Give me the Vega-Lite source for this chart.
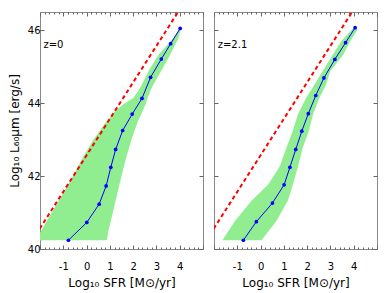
{
  "$schema": "https://vega.github.io/schema/vega-lite/v6.json",
  "padding": {"left": 7, "top": 11, "right": 16, "bottom": 5},
  "background": "white",
  "config": {
    "view": {"stroke": "#888888", "strokeWidth": 1},
    "font": "DejaVu Sans",
    "axis": {"domain": false, "grid": false, "tickColor": "#666666", "labelFont": "DejaVu Sans", "labelFontSize": 10, "labelColor": "#000000", "titleFont": "DejaVu Sans", "titleFontSize": 12, "titleFontWeight": "normal", "titleColor": "#000000", "labelOverlap": false, "labelFlush": false}
  },
  "datasets": {
    "band0": [
      {"L": 40.24, "lo": -2.2, "hi": 0.87},
      {"L": 40.5, "lo": -1.95, "hi": 0.94},
      {"L": 41.0, "lo": -1.5, "hi": 1.13},
      {"L": 41.5, "lo": -1.03, "hi": 1.31},
      {"L": 42.0, "lo": -0.58, "hi": 1.5},
      {"L": 42.5, "lo": -0.17, "hi": 1.7},
      {"L": 43.0, "lo": 0.3, "hi": 1.93},
      {"L": 43.5, "lo": 0.85, "hi": 2.2},
      {"L": 43.8, "lo": 1.25, "hi": 2.42},
      {"L": 43.98, "lo": 1.6, "hi": 2.54},
      {"L": 44.15, "lo": 2.02, "hi": 2.62},
      {"L": 44.45, "lo": 2.33, "hi": 2.82},
      {"L": 44.88, "lo": 2.66, "hi": 3.2},
      {"L": 45.33, "lo": 3.09, "hi": 3.59},
      {"L": 45.79, "lo": 3.73, "hi": 3.95},
      {"L": 46.07, "lo": 4.0, "hi": 4.06}
    ],
    "band2": [
      {"L": 40.24, "lo": -1.64, "hi": 0.04},
      {"L": 40.77, "lo": -1.1, "hi": 0.68},
      {"L": 41.32, "lo": -0.39, "hi": 1.17},
      {"L": 41.77, "lo": 0.33, "hi": 1.39},
      {"L": 42.27, "lo": 0.83, "hi": 1.61},
      {"L": 42.78, "lo": 1.11, "hi": 1.81},
      {"L": 43.25, "lo": 1.39, "hi": 2.08},
      {"L": 43.69, "lo": 1.6, "hi": 2.25},
      {"L": 44.15, "lo": 1.96, "hi": 2.53},
      {"L": 44.51, "lo": 2.32, "hi": 2.81},
      {"L": 44.88, "lo": 2.67, "hi": 3.0},
      {"L": 45.33, "lo": 3.1, "hi": 3.55},
      {"L": 45.7, "lo": 3.46, "hi": 3.85},
      {"L": 46.0, "lo": 3.9, "hi": 4.15},
      {"L": 46.1, "lo": 4.05, "hi": 4.1}
    ],
    "pts0": [
      {"SFR": -0.78, "L": 40.24}, {"SFR": 0.01, "L": 40.73}, {"SFR": 0.54, "L": 41.23},
      {"SFR": 0.84, "L": 41.73}, {"SFR": 1.04, "L": 42.24}, {"SFR": 1.25, "L": 42.73},
      {"SFR": 1.55, "L": 43.25}, {"SFR": 1.96, "L": 43.7}, {"SFR": 2.38, "L": 44.13},
      {"SFR": 2.75, "L": 44.71}, {"SFR": 3.21, "L": 45.21}, {"SFR": 3.61, "L": 45.63},
      {"SFR": 4.02, "L": 46.05}
    ],
    "pts2": [
      {"SFR": -0.74, "L": 40.24}, {"SFR": -0.18, "L": 40.75}, {"SFR": 0.51, "L": 41.26},
      {"SFR": 1.01, "L": 41.76}, {"SFR": 1.26, "L": 42.24}, {"SFR": 1.51, "L": 42.73},
      {"SFR": 1.77, "L": 43.23}, {"SFR": 2.05, "L": 43.71}, {"SFR": 2.37, "L": 44.21},
      {"SFR": 2.72, "L": 44.69}, {"SFR": 3.19, "L": 45.2}, {"SFR": 3.65, "L": 45.66},
      {"SFR": 4.06, "L": 46.07}
    ],
    "kenn": [
      {"SFR": -2.5, "L": 40.07}, {"SFR": 4.1, "L": 46.67}
    ]
  },
  "spacing": 9,
  "hconcat": [
    {
      "width": 163, "height": 237,
      "layer": [
        {
          "data": {"name": "band0"},
          "mark": {"type": "area", "orient": "horizontal", "color": "#90ee90", "opacity": 1, "clip": true},
          "encoding": {
            "y": {"field": "L", "type": "quantitative", "scale": {"domain": [40, 46.5], "nice": false, "zero": false},
                  "axis": {"orient": "left", "values": [40, 42, 44, 46], "title": "Log₁₀ L₆₀μm [erg/s]", "tickSize": -4, "labelPadding": 4, "titlePadding": 6}},
            "x": {"field": "lo", "type": "quantitative", "scale": {"domain": [-2, 5], "nice": false, "zero": false},
                  "axis": {"orient": "bottom", "title": "Log₁₀ SFR [M⊙/yr]", "titlePadding": 4, "labelPadding": 16,
                           "values": [-2, -1.8, -1.6, -1.4, -1.2, -1, -0.8, -0.6, -0.4, -0.2, 0, 0.2, 0.4, 0.6, 0.8, 1, 1.2, 1.4, 1.6, 1.8, 2, 2.2, 2.4, 2.6, 2.8, 3, 3.2, 3.4, 3.6, 3.8, 4, 4.2, 4.4, 4.6, 4.8, 5],
                           "labelExpr": "abs(datum.value - round(datum.value)) < 0.01 && datum.value > -1.5 && datum.value < 4.5 ? '' + round(datum.value) : ''",
                           "tickSize": {"condition": {"test": "abs(datum.value - round(datum.value)) > 0.01", "value": -2}, "value": -4}}},
            "x2": {"field": "hi"}
          }
        },
        {
          "data": {"name": "kenn"},
          "mark": {"type": "line", "color": "#ff0000", "strokeDash": [4, 3], "strokeWidth": 2, "clip": true},
          "encoding": {
            "x": {"field": "SFR", "type": "quantitative", "axis": null},
            "y": {"field": "L", "type": "quantitative", "axis": null}
          }
        },
        {
          "data": {"name": "pts0"},
          "mark": {"type": "line", "color": "#0000ff", "strokeWidth": 1, "point": {"filled": true, "size": 14, "color": "#0000ff"}},
          "encoding": {
            "x": {"field": "SFR", "type": "quantitative", "axis": null},
            "y": {"field": "L", "type": "quantitative", "axis": null}
          }
        },
        {
          "data": {"values": [{"SFR": -1.85, "L": 45.6, "t": "z=0"}]},
          "mark": {"type": "text", "align": "left", "baseline": "middle", "fontSize": 10, "font": "DejaVu Sans", "color": "#000000"},
          "encoding": {
            "x": {"field": "SFR", "type": "quantitative",
                  "axis": {"orient": "top", "labels": false, "title": null,
                           "values": [-2, -1.8, -1.6, -1.4, -1.2, -1, -0.8, -0.6, -0.4, -0.2, 0, 0.2, 0.4, 0.6, 0.8, 1, 1.2, 1.4, 1.6, 1.8, 2, 2.2, 2.4, 2.6, 2.8, 3, 3.2, 3.4, 3.6, 3.8, 4, 4.2, 4.4, 4.6, 4.8, 5],
                           "tickSize": {"condition": {"test": "abs(datum.value - round(datum.value)) > 0.01", "value": -2}, "value": -4}}},
            "y": {"field": "L", "type": "quantitative",
                  "axis": {"orient": "right", "labels": false, "title": null, "values": [40, 42, 44, 46], "tickSize": -4}},
            "text": {"field": "t"}
          }
        }
      ]
    },
    {
      "width": 163, "height": 237,
      "layer": [
        {
          "data": {"name": "band2"},
          "mark": {"type": "area", "orient": "horizontal", "color": "#90ee90", "opacity": 1, "clip": true},
          "encoding": {
            "y": {"field": "L", "type": "quantitative", "scale": {"domain": [40, 46.5], "nice": false, "zero": false},
                  "axis": {"orient": "left", "values": [40, 42, 44, 46], "title": null, "labels": false, "tickSize": -4}},
            "x": {"field": "lo", "type": "quantitative", "scale": {"domain": [-2, 5], "nice": false, "zero": false},
                  "axis": {"orient": "bottom", "title": "Log₁₀ SFR [M⊙/yr]", "titlePadding": 4, "labelPadding": 16,
                           "values": [-2, -1.8, -1.6, -1.4, -1.2, -1, -0.8, -0.6, -0.4, -0.2, 0, 0.2, 0.4, 0.6, 0.8, 1, 1.2, 1.4, 1.6, 1.8, 2, 2.2, 2.4, 2.6, 2.8, 3, 3.2, 3.4, 3.6, 3.8, 4, 4.2, 4.4, 4.6, 4.8, 5],
                           "labelExpr": "abs(datum.value - round(datum.value)) < 0.01 && datum.value > -1.5 && datum.value < 4.5 ? '' + round(datum.value) : ''",
                           "tickSize": {"condition": {"test": "abs(datum.value - round(datum.value)) > 0.01", "value": -2}, "value": -4}}},
            "x2": {"field": "hi"}
          }
        },
        {
          "data": {"name": "kenn"},
          "mark": {"type": "line", "color": "#ff0000", "strokeDash": [4, 3], "strokeWidth": 2, "clip": true},
          "encoding": {
            "x": {"field": "SFR", "type": "quantitative", "axis": null},
            "y": {"field": "L", "type": "quantitative", "axis": null}
          }
        },
        {
          "data": {"name": "pts2"},
          "mark": {"type": "line", "color": "#0000ff", "strokeWidth": 1, "point": {"filled": true, "size": 14, "color": "#0000ff"}},
          "encoding": {
            "x": {"field": "SFR", "type": "quantitative", "axis": null},
            "y": {"field": "L", "type": "quantitative", "axis": null}
          }
        },
        {
          "data": {"values": [{"SFR": -1.84, "L": 45.6, "t": "z=2.1"}]},
          "mark": {"type": "text", "align": "left", "baseline": "middle", "fontSize": 10, "font": "DejaVu Sans", "color": "#000000"},
          "encoding": {
            "x": {"field": "SFR", "type": "quantitative",
                  "axis": {"orient": "top", "labels": false, "title": null,
                           "values": [-2, -1.8, -1.6, -1.4, -1.2, -1, -0.8, -0.6, -0.4, -0.2, 0, 0.2, 0.4, 0.6, 0.8, 1, 1.2, 1.4, 1.6, 1.8, 2, 2.2, 2.4, 2.6, 2.8, 3, 3.2, 3.4, 3.6, 3.8, 4, 4.2, 4.4, 4.6, 4.8, 5],
                           "tickSize": {"condition": {"test": "abs(datum.value - round(datum.value)) > 0.01", "value": -2}, "value": -4}}},
            "y": {"field": "L", "type": "quantitative",
                  "axis": {"orient": "right", "labels": false, "title": null, "values": [40, 42, 44, 46], "tickSize": -4}},
            "text": {"field": "t"}
          }
        }
      ]
    }
  ]
}
